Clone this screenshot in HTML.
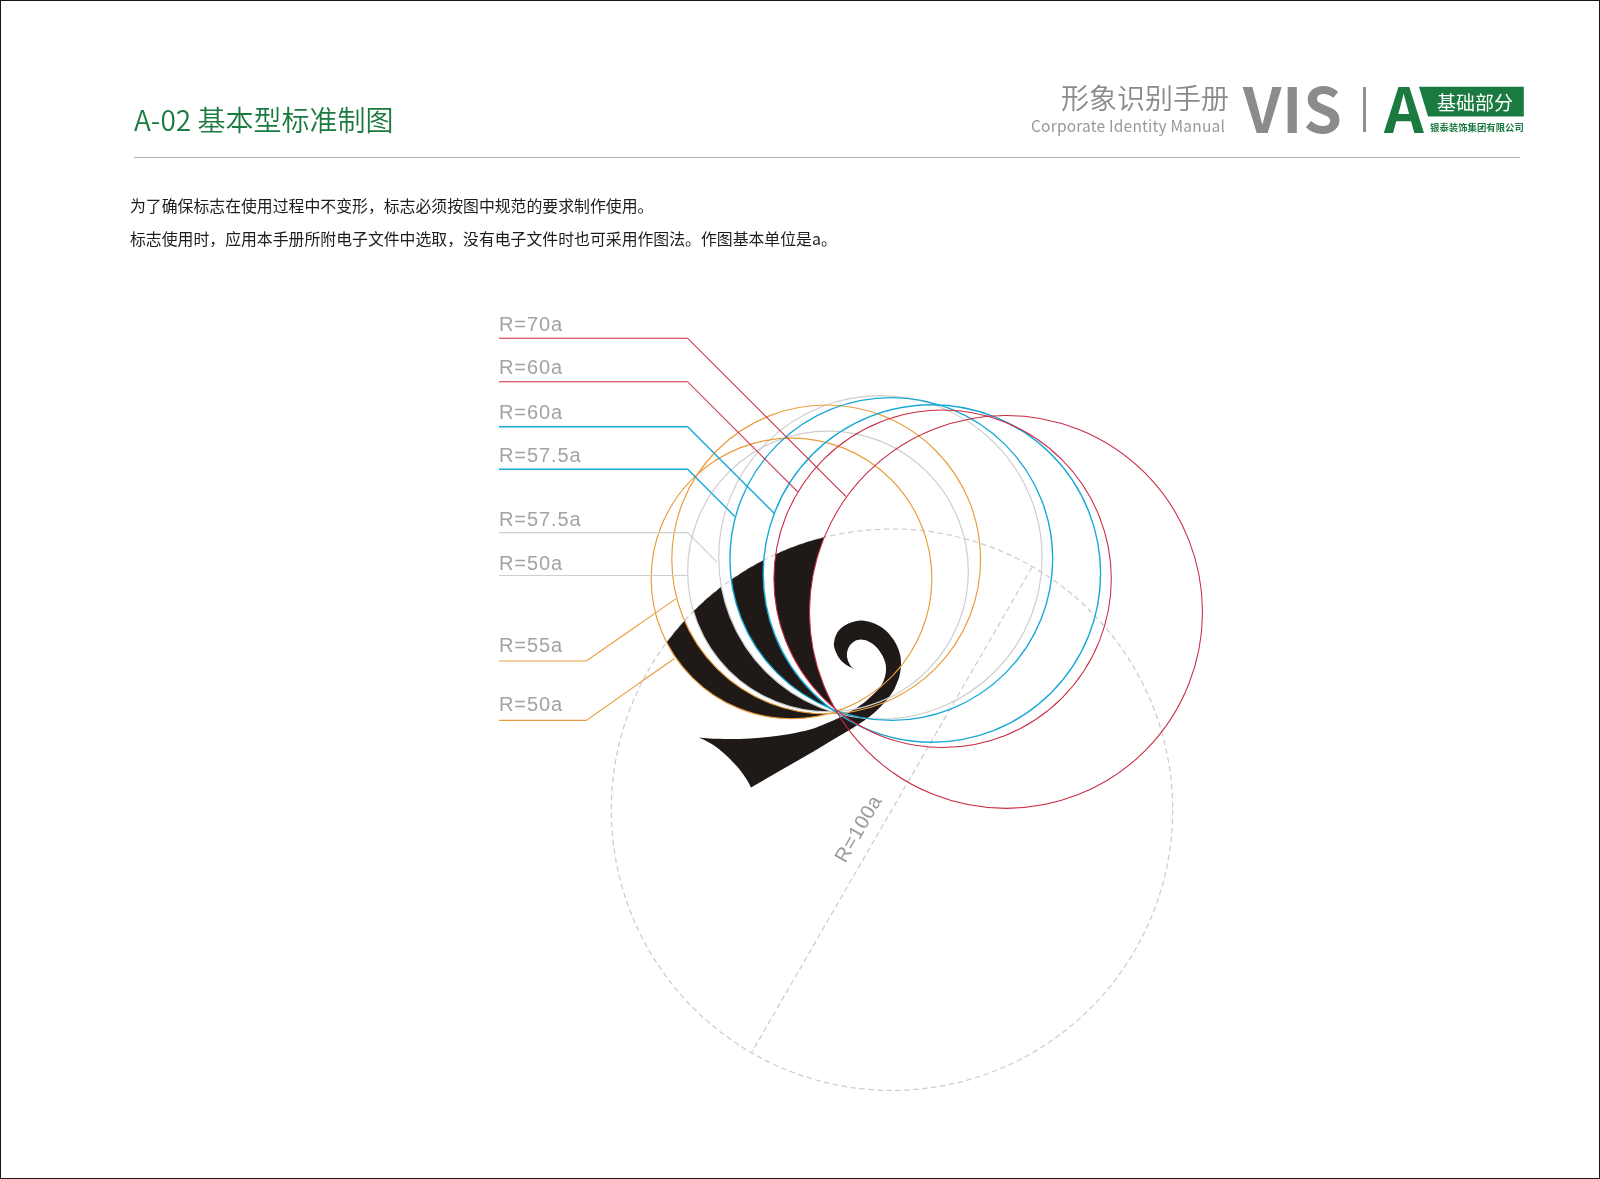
<!DOCTYPE html>
<html lang="zh-CN"><head><meta charset="utf-8"><title>A-02 基本型标准制图</title>
<style>
html,body{margin:0;padding:0;background:#fff}
body{width:1600px;height:1179px;position:relative;overflow:hidden;font-family:"Noto Sans CJK SC","Liberation Sans",sans-serif}
.frame{position:absolute;left:0;top:0;width:1598px;height:1177px;border:1px solid #1a1613;z-index:5;pointer-events:none}
.abs{position:absolute;white-space:nowrap;line-height:1;will-change:transform}
.title{left:134px;top:105px;font-size:28px;color:#1b7a40;font-weight:350}
.rule{position:absolute;left:134.4px;top:156.8px;width:1385.4px;height:1.7px;background:#b0b0b0}
.p{left:130px;font-size:15.87px;color:#1c1c1c;font-weight:400}
.h1{left:1061px;top:83px;font-size:28px;color:#8a8a8a;font-weight:350}
.h2{left:1031px;top:117.5px;font-size:15.5px;letter-spacing:0.2px;color:#999;font-weight:400}
.vis{left:1243px;top:75px;font-size:62px;letter-spacing:0.7px;font-weight:700;color:#8b8b8b}
.bar{position:absolute;left:1363px;top:87px;width:2.5px;height:45px;background:#8f8f8f}
.A{left:1384px;top:75px;font-size:62px;font-weight:700;color:#1b7a40}
.tag{left:1437px;top:92px;font-size:19px;color:#fff;font-weight:400;z-index:2}
.co{left:1430px;top:122.5px;font-size:9.4px;color:#1b7a40;font-weight:700}
</style></head><body>
<svg width="1600" height="1179" viewBox="0 0 1600 1179" style="position:absolute;left:0;top:0;will-change:transform">
<circle cx="892.0" cy="809.75" r="280.70" fill="none" stroke="#cdcdcd" stroke-width="1.25" stroke-dasharray="5.5 3.5"/>
<line x1="1032" y1="567.3" x2="751.9" y2="1051.9" stroke="#cdcdcd" stroke-width="1.25" stroke-dasharray="5.5 3.5"/>
<path d="M828.57,713.77 A140.35,140.35 0 0 1 666.61,642.44 A280.70,280.70 0 0 1 684.51,620.70 A154.38,154.38 0 0 0 828.57,713.77Z" fill="#1f1a17"/>
<path d="M832.02,711.69 A140.35,140.35 0 0 1 693.45,611.33 A280.70,280.70 0 0 1 721.40,586.84 A161.70,161.70 0 0 0 832.02,711.69Z" fill="#1f1a17"/>
<path d="M831.05,708.73 A161.40,161.40 0 0 1 731.22,579.65 A280.70,280.70 0 0 1 763.74,560.07 A168.70,168.70 0 0 0 831.05,708.73Z" fill="#1f1a17"/>
<path d="M835.05,708.77 A168.70,168.70 0 0 1 775.69,554.28 A280.70,280.70 0 0 1 824.20,537.36 A196.49,196.49 0 0 0 835.05,708.77Z" fill="#1f1a17"/>
<path d="M855.5,669.5 C854.0,668.8 849.3,667.1 846.5,665.1 C843.7,663.1 840.7,660.3 838.7,657.4 C836.7,654.5 835.0,650.2 834.3,647.5 C833.6,644.8 833.8,643.5 834.3,640.9 C834.8,638.3 835.8,634.7 837.6,632.0 C839.5,629.3 842.3,626.7 845.4,624.9 C848.5,623.1 853.3,621.7 856.4,621.0 C859.5,620.3 861.0,620.3 864.1,620.8 C867.2,621.3 871.4,622.1 875.1,623.8 C878.8,625.5 882.9,627.9 886.2,630.9 C889.5,633.9 892.7,638.1 895.0,642.0 C897.3,645.9 898.9,650.2 899.9,654.1 C900.9,658.0 901.1,661.4 901.0,665.1 C900.9,668.8 900.3,672.6 899.4,676.2 C898.5,679.8 896.5,684.0 895.5,686.5 C894.5,689.0 894.5,689.0 893.1,691.2 C891.7,693.4 889.7,696.5 887.2,699.5 C884.7,702.5 881.3,706.1 878.3,709.0 C875.3,711.9 872.9,714.0 869.4,716.7 C865.9,719.4 861.5,722.4 857.5,725.0 C853.5,727.6 849.6,729.8 845.6,732.2 C841.6,734.6 837.8,736.9 833.8,739.3 C829.8,741.7 825.9,744.0 821.9,746.4 C817.9,748.8 815.3,750.4 810.0,753.5 C804.7,756.6 796.7,761.2 790.0,765.0 C783.3,768.8 776.5,772.8 770.0,776.5 C763.5,780.2 754.2,785.7 751.0,787.5 C750.3,786.2 748.8,782.9 747.0,780.0 C745.2,777.1 742.8,773.5 740.0,770.0 C737.2,766.5 733.3,762.3 730.0,759.0 C726.7,755.7 723.3,752.7 720.0,750.0 C716.7,747.3 713.5,745.1 710.0,743.0 C706.5,740.9 700.8,738.4 699.0,737.5 C700.8,737.7 704.8,738.2 710.0,738.5 C715.2,738.8 723.3,739.0 730.0,739.0 C736.7,739.0 743.3,738.9 750.0,738.5 C756.7,738.1 763.3,737.5 770.0,736.8 C776.7,736.0 783.3,735.2 790.0,734.0 C796.7,732.8 804.7,731.1 810.0,729.6 C815.3,728.1 817.9,726.8 821.9,725.3 C825.9,723.8 829.8,722.1 833.8,720.3 C837.8,718.5 841.6,716.5 845.6,714.3 C849.6,712.1 854.0,709.5 857.5,707.2 C861.0,704.9 863.6,703.0 866.4,700.7 C869.2,698.4 872.0,695.6 874.1,693.6 C876.2,691.6 877.4,690.6 879.0,688.5 C880.6,686.4 882.4,683.6 883.5,681.0 C884.6,678.4 885.4,675.6 885.8,672.8 C886.1,670.0 886.2,666.9 885.6,664.0 C885.0,661.1 883.9,658.1 882.3,655.2 C880.7,652.4 878.5,649.2 876.2,646.9 C873.9,644.6 871.1,642.6 868.5,641.4 C865.9,640.2 863.2,639.5 860.8,639.5 C858.4,639.5 856.1,640.2 854.2,641.4 C852.3,642.5 850.4,644.5 849.2,646.4 C848.0,648.3 847.3,650.8 847.0,653.0 C846.7,655.2 847.0,657.4 847.6,659.6 C848.2,661.8 849.6,664.6 850.9,666.2 C852.2,667.9 854.7,669.0 855.5,669.5Z" fill="#1f1a17"/>
<circle cx="828.0" cy="571.4" r="140.35" fill="none" stroke="#cecece" stroke-width="1.2"/>
<circle cx="880.4" cy="557.4" r="161.70" fill="none" stroke="#cecece" stroke-width="1.2"/>
<circle cx="791.5" cy="578.4" r="140.35" fill="none" stroke="#e99c3c" stroke-width="1.15"/>
<circle cx="826.2" cy="559.4" r="154.38" fill="none" stroke="#e99c3c" stroke-width="1.15"/>
<circle cx="891.3" cy="559.0" r="161.40" fill="none" stroke="#19a9d6" stroke-width="1.4"/>
<circle cx="931.9" cy="573.5" r="168.70" fill="none" stroke="#19a9d6" stroke-width="1.4"/>
<circle cx="942.6" cy="578.8" r="168.70" fill="none" stroke="#c92a42" stroke-width="1.05"/>
<circle cx="1006.0" cy="611.9" r="196.49" fill="none" stroke="#c92a42" stroke-width="1.05"/>
<polyline points="499,338.2 687.6,338.2 845.8,496.4" fill="none" stroke="#c92a42" stroke-width="1.05"/>
<polyline points="499,381.7 687.6,381.7 797.8,491.9" fill="none" stroke="#c92a42" stroke-width="1.05"/>
<polyline points="499,426.7 687.6,426.7 774.5,513.6" fill="none" stroke="#19a9d6" stroke-width="1.4"/>
<polyline points="499,469.2 687.6,469.2 734.8,516.4" fill="none" stroke="#19a9d6" stroke-width="1.4"/>
<polyline points="499,532.7 687.6,532.7 717,562.1" fill="none" stroke="#cecece" stroke-width="1.2"/>
<polyline points="499,575.5 687.6,575.5" fill="none" stroke="#cecece" stroke-width="1.2"/>
<polyline points="499,661 586.3,661 675.8,598.9" fill="none" stroke="#e99c3c" stroke-width="1.15"/>
<polyline points="499,720.4 586.3,720.4 674.4,658.5" fill="none" stroke="#e99c3c" stroke-width="1.15"/>
<text x="499" y="331.3" font-family="'Liberation Sans', Arial, sans-serif" font-size="20" letter-spacing="0.9" fill="#a3a3a3">R=70a</text>
<text x="499" y="374" font-family="'Liberation Sans', Arial, sans-serif" font-size="20" letter-spacing="0.9" fill="#a3a3a3">R=60a</text>
<text x="499" y="419.1" font-family="'Liberation Sans', Arial, sans-serif" font-size="20" letter-spacing="0.9" fill="#a3a3a3">R=60a</text>
<text x="499" y="461.8" font-family="'Liberation Sans', Arial, sans-serif" font-size="20" letter-spacing="0.9" fill="#a3a3a3">R=57.5a</text>
<text x="499" y="525.6" font-family="'Liberation Sans', Arial, sans-serif" font-size="20" letter-spacing="0.9" fill="#a3a3a3">R=57.5a</text>
<text x="499" y="570.4" font-family="'Liberation Sans', Arial, sans-serif" font-size="20" letter-spacing="0.9" fill="#a3a3a3">R=50a</text>
<text x="499" y="652.2" font-family="'Liberation Sans', Arial, sans-serif" font-size="20" letter-spacing="0.9" fill="#a3a3a3">R=55a</text>
<text x="499" y="711.3" font-family="'Liberation Sans', Arial, sans-serif" font-size="20" letter-spacing="0.9" fill="#a3a3a3">R=50a</text>
<text x="845.6" y="863.9" transform="rotate(-60 845.6 863.9)" font-family="'Liberation Sans', Arial, sans-serif" font-size="20" letter-spacing="0.5" fill="#9a9a9a">R=100a</text>
</svg>
<div class="abs title">A-02 基本型标准制图</div>
<div class="rule"></div>
<div class="abs p" style="top:197.5px">为了确保标志在使用过程中不变形，标志必须按图中规范的要求制作使用。</div>
<div class="abs p" style="top:230.5px">标志使用时，应用本手册所附电子文件中选取，没有电子文件时也可采用作图法。作图基本单位是a。</div>
<div class="abs h1">形象识别手册</div>
<div class="abs h2">Corporate Identity Manual</div>
<div class="abs vis">VIS</div>
<div class="bar"></div>
<div class="abs A">A</div>
<svg class="abs" style="left:1410px;top:80px" width="120" height="44" viewBox="1410 80 120 44"><polygon points="1419,86.8 1523.8,86.8 1523.8,116.5 1428,116.5" fill="#1b7a40"/></svg>
<div class="abs tag">基础部分</div>
<div class="abs co">银泰装饰集团有限公司</div>
<div class="frame"></div>
</body></html>
